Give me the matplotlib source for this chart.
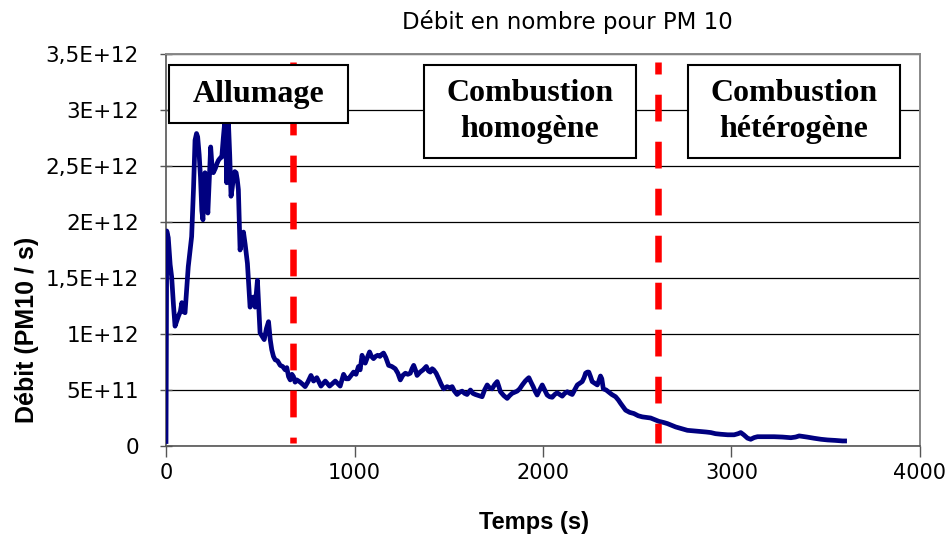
import matplotlib

matplotlib.use("Agg")

import matplotlib.pyplot as plt  # noqa: E402
import numpy as np  # noqa: E402
from matplotlib.patches import Rectangle  # noqa: E402

# PM10 number flow over the burn, in units of 1E+12 particles per second
temps_s = [
    0, 4, 12, 22, 30, 40, 48, 58, 66, 76, 84, 92, 101, 110, 118, 128, 136,
    146, 154, 162, 168, 176, 183, 190, 196, 201, 207, 214, 222, 230, 237,
    244, 251, 262, 270, 278, 287, 296, 304, 313, 318, 322, 327, 331, 338,
    345, 351, 358, 365, 372, 378, 384, 389, 393, 402, 411, 420, 432, 440,
    446, 455, 464, 470, 473, 480, 485, 492, 499, 510, 521, 533, 544, 553,
    561, 570, 579, 592, 606, 619, 632, 641, 650, 659, 668, 676, 685, 694,
    712, 729, 738, 752, 769, 783, 800, 822, 845, 868, 898, 924, 942, 955,
    968, 982, 995, 1008, 1021, 1030, 1040, 1048, 1057, 1068, 1080, 1090,
    1101, 1112, 1123, 1135, 1146, 1154, 1166, 1181, 1198, 1216, 1230, 1243,
    1256, 1270, 1283, 1296, 1305, 1314, 1323, 1332, 1348, 1364, 1381, 1392,
    1402, 1412, 1420, 1433, 1447, 1460, 1473, 1491, 1505, 1518, 1530, 1544,
    1558, 1571, 1584, 1597, 1606, 1615, 1628, 1641, 1659, 1677, 1690, 1704,
    1716, 1730, 1744, 1757, 1766, 1774, 1792, 1810, 1823, 1836, 1850, 1863,
    1876, 1890, 1906, 1918, 1925, 1936, 1948, 1958, 1969, 1982, 1996, 2009,
    2022, 2035, 2049, 2062, 2075, 2088, 2102, 2115, 2129, 2142, 2155, 2168,
    2182, 2195, 2208, 2218, 2226, 2235, 2243, 2252, 2261, 2275, 2288, 2296,
    2305, 2312, 2320, 2335, 2350, 2365, 2385, 2400, 2412, 2425, 2438, 2460,
    2482, 2505, 2527, 2550, 2571, 2593, 2615, 2640, 2660, 2682, 2704, 2735,
    2766, 2800, 2837, 2865, 2890, 2915, 2943, 2980, 3014, 3035, 3049, 3065,
    3085, 3102, 3120, 3138, 3180, 3226, 3270, 3315, 3340, 3359, 3400, 3439,
    3475, 3510, 3550, 3589, 3600,
]
debit_e12 = [
    0.04, 1.92, 1.86, 1.62, 1.51, 1.25, 1.07, 1.12, 1.16, 1.20, 1.28, 1.20,
    1.19, 1.40, 1.60, 1.75, 1.87, 2.30, 2.73, 2.79, 2.76, 2.60, 2.40, 2.10,
    2.02, 2.25, 2.44, 2.25, 2.08, 2.40, 2.67, 2.50, 2.44, 2.48, 2.52, 2.55,
    2.57, 2.58, 2.75, 2.92, 2.70, 2.35, 2.55, 2.90, 2.60, 2.23, 2.30, 2.40,
    2.45, 2.44, 2.38, 2.29, 2.00, 1.75, 1.85, 1.91, 1.80, 1.63, 1.40, 1.24,
    1.28, 1.33, 1.26, 1.24, 1.38, 1.48, 1.25, 1.01, 0.98, 0.95, 1.05, 1.11,
    0.95, 0.86, 0.80, 0.77, 0.76, 0.72, 0.71, 0.68, 0.70, 0.62, 0.59, 0.64,
    0.62, 0.57, 0.59, 0.57, 0.545, 0.53, 0.57, 0.63, 0.58, 0.61, 0.535, 0.58,
    0.535, 0.58, 0.535, 0.64, 0.60, 0.60, 0.63, 0.66, 0.64, 0.71, 0.68, 0.81,
    0.76, 0.74, 0.79, 0.84, 0.80, 0.78, 0.80, 0.81, 0.80, 0.82, 0.83, 0.79,
    0.72, 0.71, 0.69, 0.65, 0.59, 0.63, 0.65, 0.64, 0.65, 0.69, 0.72, 0.68,
    0.63, 0.66, 0.68, 0.71, 0.67, 0.66, 0.69, 0.68, 0.65, 0.60, 0.55, 0.51,
    0.53, 0.52, 0.53, 0.49, 0.46, 0.48, 0.49, 0.47, 0.46, 0.48, 0.50, 0.47,
    0.46, 0.45, 0.44, 0.50, 0.545, 0.52, 0.51, 0.55, 0.575, 0.53, 0.485,
    0.45, 0.425, 0.45, 0.47, 0.48, 0.49, 0.51, 0.545, 0.58, 0.60, 0.61, 0.57,
    0.53, 0.49, 0.455, 0.50, 0.545, 0.50, 0.455, 0.44, 0.435, 0.46, 0.475,
    0.46, 0.445, 0.47, 0.485, 0.47, 0.46, 0.50, 0.545, 0.56, 0.575, 0.61,
    0.65, 0.66, 0.66, 0.62, 0.575, 0.56, 0.545, 0.58, 0.625, 0.60, 0.51,
    0.50, 0.48, 0.46, 0.44, 0.41, 0.38, 0.35, 0.32, 0.30, 0.29, 0.27, 0.26,
    0.255, 0.25, 0.235, 0.22, 0.21, 0.20, 0.185, 0.17, 0.155, 0.14, 0.135,
    0.13, 0.125, 0.12, 0.11, 0.105, 0.10, 0.10, 0.11, 0.12, 0.10, 0.07, 0.06,
    0.075, 0.083, 0.083, 0.083, 0.08, 0.074, 0.08, 0.09, 0.08, 0.069, 0.06,
    0.054, 0.05, 0.045, 0.045,
]

# phase boundaries (s)
phase_limits = [676, 2610]

x_ticks = [0, 1000, 2000, 3000, 4000]
y_ticks = [0, 0.5e12, 1e12, 1.5e12, 2e12, 2.5e12, 3e12, 3.5e12]
y_tick_labels = ["0", "5E+11", "1E+12", "1,5E+12", "2E+12", "2,5E+12", "3E+12", "3,5E+12"]

# phase label boxes: (text, t_left, t_right, bottom, top) with y in units of 1E+12
phase_boxes = [
    ("Allumage", 16, 967, 2.884, 3.40),
    ("Combustion\nhomogène", 1370, 2491, 2.571, 3.40),
    ("Combustion\nhétérogène", 2768, 3894, 2.571, 3.40),
]

LINE_COLOR = "#000080"
PHASE_COLOR = "#ff0000"

fig = plt.figure(figsize=(9.48, 5.43), dpi=100)
ax = fig.add_axes([166 / 948, 1 - 446 / 543, 754 / 948, 392 / 543])

t = np.array(temps_s)
debit = np.array(debit_e12) * 1e12
ax.plot(t, debit, color=LINE_COLOR, lw=3.4, solid_joinstyle="round", zorder=3)

# dashed phase separators, dash phase tuned so each starts at the axis foot
for x, offset in zip(phase_limits, (3.2, 1.07)):
    ax.plot(
        [x, x],
        [0.027e12, 3.43e12],
        color=PHASE_COLOR,
        lw=4.7,
        linestyle=(offset, (4.1, 3.1)),
        zorder=4,
    )

for label, x0, x1, y0, y1 in phase_boxes:
    ax.add_patch(
        Rectangle(
            (x0, y0 * 1e12),
            x1 - x0,
            (y1 - y0) * 1e12,
            facecolor="white",
            edgecolor="black",
            lw=1.5,
            zorder=5,
        )
    )
    ax.text(
        (x0 + x1) / 2,
        (y0 + y1) / 2 * 1e12,
        label,
        ha="center",
        va="center",
        family="Liberation Serif",
        weight="bold",
        fontsize=23,
        linespacing=1.3,
        zorder=6,
    )

ax.set_xlim(0, 4000)
ax.set_ylim(0, 3.5e12)
ax.set_xticks(x_ticks, [str(v) for v in x_ticks])
ax.set_yticks(y_ticks, y_tick_labels)
ax.yaxis.grid(True, color="black", lw=0.9)
ax.set_axisbelow(True)

ax.tick_params(axis="x", direction="out", length=8, width=1, color="#555555",
               labelsize=15, pad=4)
ax.tick_params(axis="y", direction="inout", length=9, width=1, color="#555555",
               labelsize=15.5, pad=15)
for side in ("left", "bottom"):
    ax.spines[side].set_color("#555555")
    ax.spines[side].set_linewidth(1.2)
for side in ("top", "right"):
    ax.spines[side].set_color("#888888")
    ax.spines[side].set_linewidth(1.4)

fig.text(0.599, 0.959, "Débit en nombre pour PM 10", ha="center", va="center",
         fontsize=16.5)
fig.text(0.563, 0.037, "Temps (s)", ha="center", va="center",
         family="Liberation Sans", weight="bold", fontsize=17)
fig.text(0.0285, 0.392, "Débit (PM10 / s)", ha="center", va="center",
         rotation=90, family="Liberation Sans", weight="bold", fontsize=18)

fig.savefig("out.png", dpi=100, facecolor="white")
plt.close(fig)
